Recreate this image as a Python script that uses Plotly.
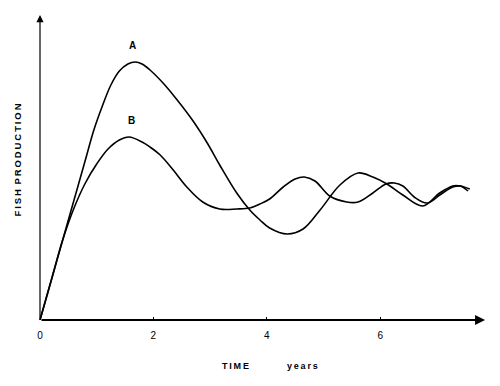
import plotly.graph_objects as go

# Curve A (time in years, fish production in arbitrary units)
time_a = [0, 0.2, 0.4, 0.6, 0.8, 0.95, 1.1, 1.25, 1.4, 1.55, 1.68, 1.8, 1.94, 2.17, 2.42, 2.70,
          2.95, 3.17, 3.47, 3.70, 3.88, 4.05, 4.36, 4.64, 4.94, 5.29, 5.61, 5.87, 6.12, 6.40,
          6.75, 7.05, 7.28, 7.41, 7.58]
prod_a = [0, 40, 80, 120, 160, 190, 214, 235, 249, 256, 258, 256, 250, 237, 220, 199,
          177, 155, 127, 110, 100, 92, 86, 91, 110, 135, 147, 143, 136, 125,
          114, 127, 134, 134, 131]

# Curve B
time_b = [0, 0.2, 0.4, 0.6, 0.8, 1.0, 1.2, 1.4, 1.57, 1.80, 1.94, 2.12, 2.35, 2.59, 2.87,
          3.17, 3.47, 3.70, 3.88, 4.05, 4.29, 4.5, 4.66, 4.85, 5.11, 5.41, 5.61, 5.87, 6.1,
          6.25, 6.4, 6.6, 6.83, 7.05, 7.28, 7.41, 7.55]
prod_b = [0, 40, 80, 112, 137, 156, 171, 180, 183, 178, 173, 165, 150, 133, 118,
          111, 111, 112, 116, 121, 133, 141, 143, 139, 124, 118, 118, 127, 136,
          137, 134, 123, 117, 125, 133, 134, 129]

tick_vals = [0, 2, 4, 6]
tick_text = ["0", "2", "4", "6"]

FONT = "Liberation Sans"

fig = go.Figure()
for t, p in [(time_a, prod_a), (time_b, prod_b)]:
    fig.add_trace(go.Scatter(x=t, y=p, mode="lines",
                             line=dict(color="black", width=1.6, shape="spline", smoothing=1.0),
                             showlegend=False, hoverinfo="skip"))

# axes with arrows
fig.add_annotation(x=7.85, y=0, ax=0, ay=0, xref="x", yref="y", axref="x", ayref="y",
                   showarrow=True, arrowhead=2, arrowsize=1, arrowwidth=2, arrowcolor="black", text="")
fig.add_annotation(x=0, y=305, ax=0, ay=0, xref="x", yref="y", axref="x", ayref="y",
                   showarrow=True, arrowhead=2, arrowsize=1.2, arrowwidth=1.2, arrowcolor="black", text="")

# curve labels
fig.add_annotation(x=1.64, y=275, text="<b>A</b>", showarrow=False,
                   font=dict(family=FONT, size=10, color="black"))
fig.add_annotation(x=1.62, y=200, text="<b>B</b>", showarrow=False,
                   font=dict(family=FONT, size=10, color="black"))

# axis titles
fig.add_annotation(x=0.4346, y=-0.171, xref="paper", yref="paper", text="<b>T\u2009I\u2009M\u2009E</b>",
                   showarrow=False, font=dict(family=FONT, size=9, color="black"))
fig.add_annotation(x=0.585, y=-0.171, xref="paper", yref="paper", text="<b>y\u2009e\u2009a\u2009r\u2009s</b>",
                   showarrow=False, font=dict(family=FONT, size=9, color="black"))
fig.add_annotation(x=-0.0532, y=0.516, xref="paper", yref="paper", xshift=-5,
                   text="<b>F\u2009I\u2009S\u2009H\u2002P\u2009R\u2009O\u2009D\u2009U\u2009C\u2009T\u2009I\u2009O\u2009N</b>",
                   textangle=-90, showarrow=False, font=dict(family=FONT, size=9.5, color="black"))

fig.update_layout(
    width=492, height=378,
    margin=dict(l=31, r=10, t=2, b=66),
    paper_bgcolor="white", plot_bgcolor="white",
    xaxis=dict(range=[-0.0176, 7.937], showgrid=False, zeroline=False, showline=False,
               tickmode="array", tickvals=tick_vals, ticktext=tick_text,
               ticks="inside", ticklen=3, tickcolor="black", tickwidth=1,
               tickfont=dict(family=FONT, size=10, color="black"), ticklabelstandoff=8),
    yaxis=dict(range=[0, 310], showgrid=False, zeroline=False, showline=False, showticklabels=False,
               ticks=""),
)
fig.write_html("out.html")
